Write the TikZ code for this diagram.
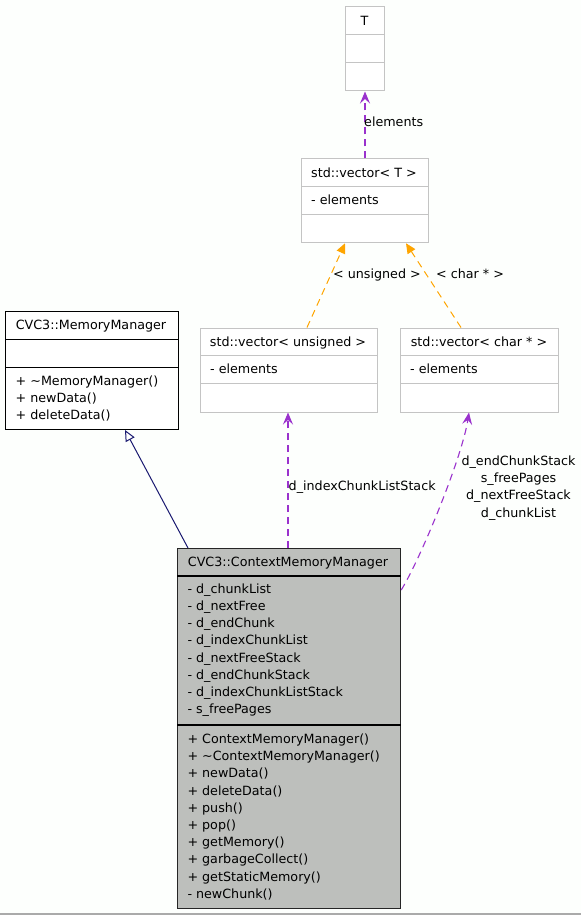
\documentclass[tikz,border=0pt]{standalone}
\usepackage{fontspec}
\setmainfont{DejaVu Sans}
\usetikzlibrary{arrows.meta}
\definecolor{bg}{HTML}{FDFFFD}
\definecolor{boxgray}{HTML}{BDBFBC}
\definecolor{lightedge}{HTML}{C4C4C4}
\definecolor{usepurple}{HTML}{9A32CD}
\definecolor{tplorange}{HTML}{FFA500}
\definecolor{inhnavy}{HTML}{191970}
\definecolor{bottomgray}{HTML}{AAAAAA}
\begin{document}
\begin{tikzpicture}[x=1pt,y=-1pt,
  txt/.style={font=\fontsize{12.7}{15}\selectfont, inner sep=0pt, anchor=base west},
  ctxt/.style={txt, anchor=base},
  graybox/.style={draw=lightedge, line width=1pt, fill=white, rectangle, inner sep=0pt, anchor=north west},
  blackbox/.style={draw=black, line width=1pt, fill=white, rectangle, inner sep=0pt, anchor=north west},
  focusbox/.style={draw=black!85, line width=1.2pt, fill=boxgray, rectangle, inner sep=0pt, anchor=north west},
  usage/.style={draw=usepurple, line width=1.1pt, dash pattern=on 7pt off 5pt, -{Stealth[length=12pt,width=10pt,inset=4.5pt]}},
  tmpl/.style={draw=tplorange, line width=1pt, dash pattern=on 7pt off 5pt, -{Triangle[length=10pt,width=9pt]}},
  inherit/.style={draw=inhnavy, line width=1pt, -{Triangle[open,length=11pt,width=10pt,fill=white]}}
]
\fill[bg] (0,0) rectangle (581,915);
\useasboundingbox (0,0) rectangle (581,915);
\draw[draw=bottomgray, line width=1.5pt] (0,914) -- (581,914);

% T
\node[graybox, minimum width=39pt, minimum height=84pt] (t) at (345,6.5) {};
\draw[lightedge, line width=1pt] ([yshift=-28pt]t.north west) -- ([yshift=-28pt]t.north east);
\draw[lightedge, line width=1pt] ([yshift=-56pt]t.north west) -- ([yshift=-56pt]t.north east);
\node[ctxt] (tname) at (364.5,25.2) {T};

% std::vector< T >
\node[graybox, minimum width=127pt, minimum height=84pt] (vt) at (301,158.3) {};
\draw[lightedge, line width=1pt] ([yshift=-28pt]vt.north west) -- ([yshift=-28pt]vt.north east);
\draw[lightedge, line width=1pt] ([yshift=-56pt]vt.north west) -- ([yshift=-56pt]vt.north east);
\node[ctxt] (vtname) at (364,177.2) {std::vector< T >};
\node[txt] (vtattr) at (311,204.5) {- elements};

% std::vector< unsigned >
\node[graybox, minimum width=177pt, minimum height=84pt] (vu) at (200,327.5) {};
\draw[lightedge, line width=1pt] ([yshift=-28pt]vu.north west) -- ([yshift=-28pt]vu.north east);
\draw[lightedge, line width=1pt] ([yshift=-56pt]vu.north west) -- ([yshift=-56pt]vu.north east);
\node[ctxt] (vuname) at (288,346.2) {std::vector< unsigned >};
\node[txt] (vuattr) at (210,373.8) {- elements};

% std::vector< char * >
\node[graybox, minimum width=158pt, minimum height=84pt] (vc) at (400,327.5) {};
\draw[lightedge, line width=1pt] ([yshift=-28pt]vc.north west) -- ([yshift=-28pt]vc.north east);
\draw[lightedge, line width=1pt] ([yshift=-56pt]vc.north west) -- ([yshift=-56pt]vc.north east);
\node[ctxt] (vcname) at (479,346.2) {std::vector< char * >};
\node[txt] (vcattr) at (410,373.8) {- elements};

% CVC3::MemoryManager
\node[blackbox, minimum width=173pt, minimum height=118pt] (mm) at (5,311) {};
\draw[black, line width=1pt] ([yshift=-28pt]mm.north west) -- ([yshift=-28pt]mm.north east);
\draw[black, line width=1pt] ([yshift=-56pt]mm.north west) -- ([yshift=-56pt]mm.north east);
\node[ctxt] (mmname) at (91,329.5) {CVC3::MemoryManager};
\node[txt] (mm1) at (15.5,385.2) {+ \textasciitilde MemoryManager()};
\node[txt] (mm2) at (15.5,402.2) {+ newData()};
\node[txt] (mm3) at (15.5,419.0) {+ deleteData()};

% CVC3::ContextMemoryManager
\node[focusbox, minimum width=223pt, minimum height=360pt] (cmm) at (177,548) {};
\draw[black, line width=1.2pt] ([yshift=-28pt]cmm.north west) -- ([yshift=-28pt]cmm.north east);
\draw[black, line width=1.2pt] ([yshift=-177pt]cmm.north west) -- ([yshift=-177pt]cmm.north east);
\node[ctxt] (cmmname) at (288,566.5) {CVC3::ContextMemoryManager};
\foreach \s [count=\i from 0] in {d\_chunkList, d\_nextFree, d\_endChunk, d\_indexChunkList, d\_nextFreeStack, d\_endChunkStack, d\_indexChunkListStack, s\_freePages}
  \node[txt] (cmma\i) at (187.3,593.2+17.2*\i) {- \s};
\foreach \s [count=\i from 0] in {+ ContextMemoryManager(), + \textasciitilde ContextMemoryManager(), + newData(), + deleteData(), + push(), + pop(), + getMemory(), + garbageCollect(), + getStaticMemory(), - newChunk()}
  \node[txt] (cmmm\i) at (187.3,743.5+17.2*\i) {\s};

% connectors
\draw[inherit] ([xshift=11pt]cmm.north west) -- ([xshift=120pt]mm.south west);
\draw[usage] ([xshift=111pt]cmm.north west) -- ([xshift=88pt]vu.south west);
\node[txt] (l1) at (288.5,490.5) {d\_indexChunkListStack};
\draw[usage] ([yshift=-42pt]cmm.north east) .. controls (420,560) and (462,458) .. ([xshift=69pt]vc.south west);
\node[ctxt] (l2a) at (518.5,465.5) {d\_endChunkStack};
\node[ctxt] (l2b) at (518.5,482.7) {s\_freePages};
\node[ctxt] (l2c) at (518.5,499.9) {d\_nextFreeStack};
\node[ctxt] (l2d) at (518.5,517.1) {d\_chunkList};
\draw[tmpl] ([xshift=107pt]vu.north west) -- ([xshift=44pt]vt.south west);
\node[txt] (l3) at (333,278.5) {< unsigned >};
\draw[tmpl] ([xshift=61pt]vc.north west) -- ([xshift=105pt]vt.south west);
\node[txt] (l4) at (436,278.5) {< char * >};
\draw[usage] (vt.north) -- (t.south);
\node[txt] (l5) at (364,126.5) {elements};
\end{tikzpicture}
\end{document}
